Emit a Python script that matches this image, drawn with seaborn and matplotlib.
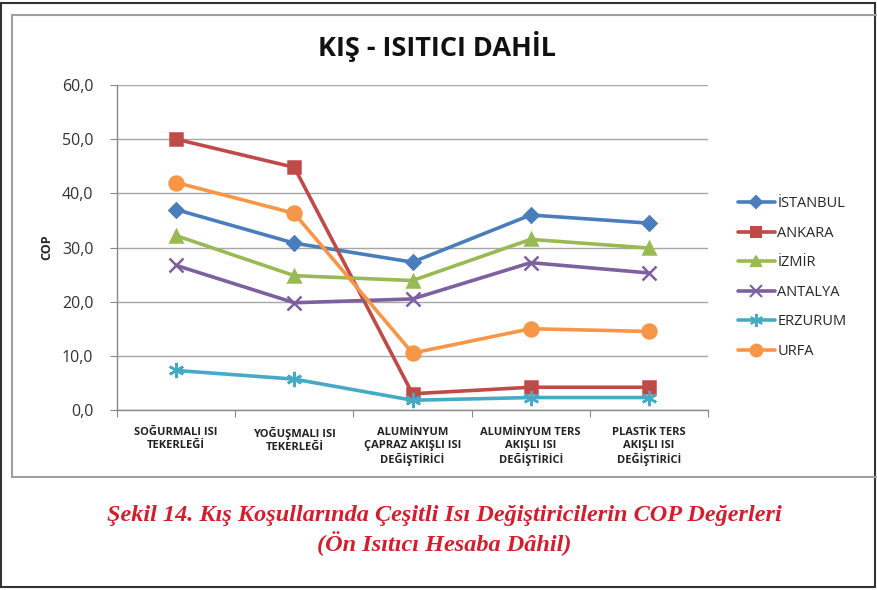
import pandas as pd
import matplotlib
matplotlib.use('Agg')
import matplotlib.pyplot as plt
import seaborn as sns
from matplotlib.patches import Rectangle
from matplotlib.lines import Line2D
from matplotlib.ticker import FuncFormatter

# data
categories = ['SOĞURMALI ISI\nTEKERLEĞİ', 'YOĞUŞMALI ISI\nTEKERLEĞİ',
              'ALUMİNYUM\nÇAPRAZ AKIŞLI ISI\nDEĞİŞTİRİCİ',
              'ALUMİNYUM TERS\nAKIŞLI ISI\nDEĞİŞTİRİCİ',
              'PLASTİK TERS\nAKIŞLI ISI\nDEĞİŞTİRİCİ']
cities = ['İSTANBUL', 'ANKARA', 'İZMİR', 'ANTALYA', 'ERZURUM', 'URFA']
istanbul = [37.0, 30.8, 27.3, 36.0, 34.5]
ankara = [50.0, 44.8, 3.0, 4.2, 4.2]
izmir = [32.2, 24.8, 23.9, 31.5, 29.9]
antalya = [26.7, 19.8, 20.5, 27.2, 25.3]
erzurum = [7.3, 5.7, 1.8, 2.3, 2.3]
urfa = [42.0, 36.3, 10.5, 15.0, 14.5]

series = [istanbul, ankara, izmir, antalya, erzurum, urfa]
rows = []
for city, vals in zip(cities, series):
    for i, v in enumerate(vals):
        rows.append({'kategori': i, 'sehir': city, 'COP': v})
df = pd.DataFrame(rows)

palette = {'İSTANBUL': '#4a7ebb', 'ANKARA': '#be4b48', 'İZMİR': '#98b954',
           'ANTALYA': '#7d60a0', 'ERZURUM': '#46aac5', 'URFA': '#f79646'}
markers = {'İSTANBUL': 'D', 'ANKARA': 's', 'İZMİR': '^',
           'ANTALYA': 'x', 'ERZURUM': (6, 2, 0), 'URFA': 'o'}
msize = {'İSTANBUL': 7, 'ANKARA': 9, 'İZMİR': 9, 'ANTALYA': 10, 'ERZURUM': 11, 'URFA': 10}

sns.set_style('white')
plt.rcParams['font.family'] = ['Open Sans', 'DejaVu Sans']

fig = plt.figure(figsize=(8.78, 5.9), dpi=100)
W, H = 878, 590

# outer frame and inner chart frame
fig.patches.append(Rectangle((1.5 / W, 3 / H), 874 / W, 584 / H, transform=fig.transFigure,
                             fill=False, edgecolor='#333333', linewidth=1.5))
fig.patches.append(Rectangle((12 / W, (H - 477) / H), 866 / W, 462 / H, transform=fig.transFigure,
                             fill=False, edgecolor='#a0a0a0', linewidth=1.5))

ax = fig.add_axes([117 / W, (H - 410) / H, (708 - 117) / W, (410 - 85) / H])
for city in cities:
    sub = df[df['sehir'] == city]
    sns.lineplot(data=sub, x='kategori', y='COP', color=palette[city],
                 marker=markers[city], markersize=msize[city], markeredgewidth=1.8,
                 markeredgecolor=palette[city], linewidth=2.6, ax=ax, legend=False)

ax.set_xlim(-0.5, 4.5)
ax.set_ylim(0, 60)
ax.set_yticks(range(0, 61, 10))
ax.yaxis.set_major_formatter(FuncFormatter(lambda v, p: f'{v:.1f}'.replace('.', ',')))
ax.set_xticks([-0.5, 0.5, 1.5, 2.5, 3.5, 4.5])
ax.set_xticklabels([])
ax.set_xticks(range(5), minor=True)
ax.set_xticklabels(categories, minor=True, fontsize=8, fontweight='bold', color='#222222',
                   linespacing=1.25)
ax.tick_params(axis='x', which='major', length=5, color='#888888', direction='out', bottom=True)
ax.tick_params(axis='x', which='minor', length=0, pad=12)
ax.tick_params(axis='y', length=5, color='#888888', direction='out', left=True,
               labelsize=11.5, labelcolor='#333333', pad=12)
ax.grid(axis='y', color='#a6a6a6', linewidth=1)
for s in ['top', 'right']:
    ax.spines[s].set_visible(False)
for s in ['left', 'bottom']:
    ax.spines[s].set_color('#888888')
    ax.spines[s].set_linewidth(1)
ax.set_xlabel('')
ax.set_ylabel('COP', fontsize=9, fontweight='bold', labelpad=6)

fig.text(437 / W, 1 - 47 / H, 'KIŞ - ISITICI DAHİL', ha='center', va='center',
         fontsize=19.5, fontweight='bold', color='#111111')

# legend
handles = [Line2D([], [], color=palette[c], marker=markers[c], markersize=msize[c] * 0.85,
                  markeredgewidth=1.5, linewidth=2.6) for c in cities]
fig.legend(handles, cities, loc='upper left', bbox_to_anchor=(725 / W, 1 - 183 / H),
           frameon=False, fontsize=10.5, handlelength=2.5, labelspacing=1.0,
           handletextpad=0.2)

fig.text(444 / W, 1 - 516 / H, 'Şekil 14. Kış Koşullarında Çeşitli Isı Değiştiricilerin COP Değerleri',
         ha='center', va='center', fontsize=17.5, fontweight='bold', fontstyle='italic',
         color='#d01f2d', family=['Liberation Serif', 'DejaVu Serif'])
fig.text(444 / W, 1 - 544 / H, '(Ön Isıtıcı Hesaba Dâhil)',
         ha='center', va='center', fontsize=17.5, fontweight='bold', fontstyle='italic',
         color='#d01f2d', family=['Liberation Serif', 'DejaVu Serif'])

plt.savefig('out.png', dpi=100)
